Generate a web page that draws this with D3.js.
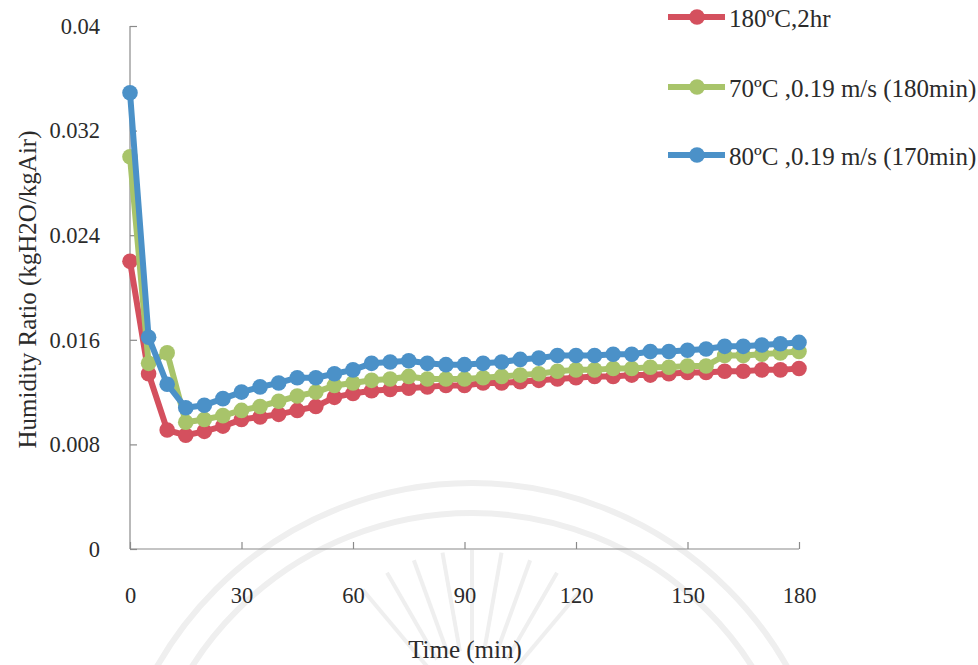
<!DOCTYPE html>
<html>
<head>
<meta charset="utf-8">
<script src="https://cdn.jsdelivr.net/npm/d3@7"></script>
<style>
  html, body { margin: 0; padding: 0; background: #ffffff; }
  svg { display: block; }
  text { font-family: "Liberation Serif", "Times New Roman", Tinos, serif; fill: #2b2b2b; }
</style>
</head>
<body>
<svg id="chart" width="978" height="665"></svg>
<script>
// Sampling times (min)
const times = d3.range(0, 181, 5);

// Humidity ratio (kgH2O/kgAir) for each drying condition
const red180 = [0.0220, 0.0134, 0.0091, 0.0087, 0.0090, 0.0094, 0.0099, 0.0101, 0.0103, 0.0106,
  0.0109, 0.0116, 0.0119, 0.0121, 0.0122, 0.0123, 0.0124, 0.0125, 0.0125, 0.0127,
  0.0127, 0.0128, 0.0129, 0.0130, 0.0131, 0.0132, 0.0132, 0.0133, 0.0133, 0.0134,
  0.0135, 0.0135, 0.0136, 0.0136, 0.0137, 0.0137, 0.0138];
const green70 = [0.0300, 0.0142, 0.0150, 0.0097, 0.0099, 0.0102, 0.0106, 0.0109, 0.0113, 0.0117,
  0.0120, 0.0125, 0.0127, 0.0129, 0.0130, 0.0132, 0.0130, 0.0130, 0.0130, 0.0131,
  0.0132, 0.0133, 0.0134, 0.0136, 0.0137, 0.0137, 0.0138, 0.0138, 0.0139, 0.0139,
  0.0140, 0.0140, 0.0148, 0.0148, 0.0149, 0.0150, 0.0151];
const blue80 = [0.0349, 0.0162, 0.0126, 0.0108, 0.0110, 0.0115, 0.0120, 0.0124, 0.0127, 0.0131,
  0.0131, 0.0134, 0.0137, 0.0142, 0.0143, 0.0144, 0.0142, 0.0141, 0.0141, 0.0142,
  0.0143, 0.0145, 0.0146, 0.0148, 0.0148, 0.0148, 0.0149, 0.0149, 0.0151, 0.0151,
  0.0152, 0.0153, 0.0155, 0.0155, 0.0156, 0.0157, 0.0158];

const seriesNames = ["180ºC,2hr", "70ºC ,0.19 m/s (180min)", "80ºC ,0.19 m/s (170min)"];
const seriesColors = ["#d4505e", "#a8c46a", "#4b91c8"];
const seriesValues = [red180, green70, blue80];

const xTicks = [0, 30, 60, 90, 120, 150, 180];
const yTicks = [0, 0.008, 0.016, 0.024, 0.032, 0.04];

const serif = '"Liberation Serif", "Times New Roman", Tinos, serif';
const svg = d3.select("#chart");

// faint seal in the background
const seal = svg.append("g").attr("fill", "none").attr("stroke", "#efefef");
const cx = 472, cy = 845;
[362, 332].forEach(r => {
  seal.append("circle").attr("cx", cx).attr("cy", cy).attr("r", r).attr("stroke-width", 6);
});
d3.range(-40, 41, 10).forEach(a => {
  const rad = (a - 90) * Math.PI / 180;
  seal.append("line")
    .attr("x1", cx + Math.cos(rad) * 70).attr("y1", 720 + Math.sin(rad) * 70)
    .attr("x2", cx + Math.cos(rad) * 170).attr("y2", 720 + Math.sin(rad) * 170)
    .attr("stroke-width", 4);
});

const x = d3.scaleLinear().domain([0, 180]).range([130, 799]);
const y = d3.scaleLinear().domain([0, 0.04]).range([549, 26]);

// axes
const xAxis = d3.axisBottom(x).tickValues(xTicks).tickSize(-7).tickPadding(38).tickFormat(d3.format("d"));
const yAxis = d3.axisLeft(y).tickValues(yTicks).tickSize(-7).tickPadding(30)
  .tickFormat(d => d === 0 ? "0" : String(+d.toFixed(3)));

const gx = svg.append("g").attr("transform", `translate(0,${y(0)})`).call(xAxis);
const gy = svg.append("g").attr("transform", `translate(${x(0)},0)`).call(yAxis);
[gx, gy].forEach(g => {
  g.attr("font-family", serif);
  g.select(".domain").attr("stroke", "#8a8a8a").attr("stroke-width", 1.2);
  g.selectAll(".tick line").attr("stroke", "#8a8a8a").attr("stroke-width", 1.2);
  g.selectAll(".tick text").attr("font-size", 22.5).attr("fill", "#2b2b2b");
});
gx.select(".domain").attr("d", `M${x(0)},0H${x(180)}`);
gy.select(".domain").attr("d", `M0,${y(0)}V${y(0.04)}`);

// axis titles
svg.append("text")
  .attr("transform", `translate(30,${(y(0) + y(0.04)) / 2 + 2}) rotate(-90)`)
  .attr("text-anchor", "middle").attr("dominant-baseline", "middle")
  .attr("font-size", 25).text("Humidity Ratio (kgH2O/kgAir)");
svg.append("text")
  .attr("x", 465).attr("y", 658)
  .attr("text-anchor", "middle")
  .attr("font-size", 25).text("Time (min)");

// series
const line = d3.line().x((d, i) => x(times[i])).y(d => y(d));
seriesValues.forEach((vals, k) => {
  const g = svg.append("g");
  g.append("path").datum(vals)
    .attr("d", line).attr("fill", "none")
    .attr("stroke", seriesColors[k]).attr("stroke-width", 6).attr("stroke-linejoin", "round");
  g.selectAll("circle").data(vals).join("circle")
    .attr("cx", (d, i) => x(times[i])).attr("cy", d => y(d))
    .attr("r", 7.8).attr("fill", seriesColors[k]);
});

// legend
const legendY = [17, 87, 155];
seriesNames.forEach((name, k) => {
  const g = svg.append("g").attr("transform", `translate(668,${legendY[k]})`);
  g.append("line").attr("x1", 0).attr("x2", 57).attr("y1", 0).attr("y2", 0)
    .attr("stroke", seriesColors[k]).attr("stroke-width", 6);
  g.append("circle").attr("cx", 29).attr("cy", 0).attr("r", 7.8).attr("fill", seriesColors[k]);
  g.append("text").attr("x", 61).attr("y", 1).attr("dominant-baseline", "central")
    .attr("font-size", 25).text(name);
});
</script>
</body>
</html>
